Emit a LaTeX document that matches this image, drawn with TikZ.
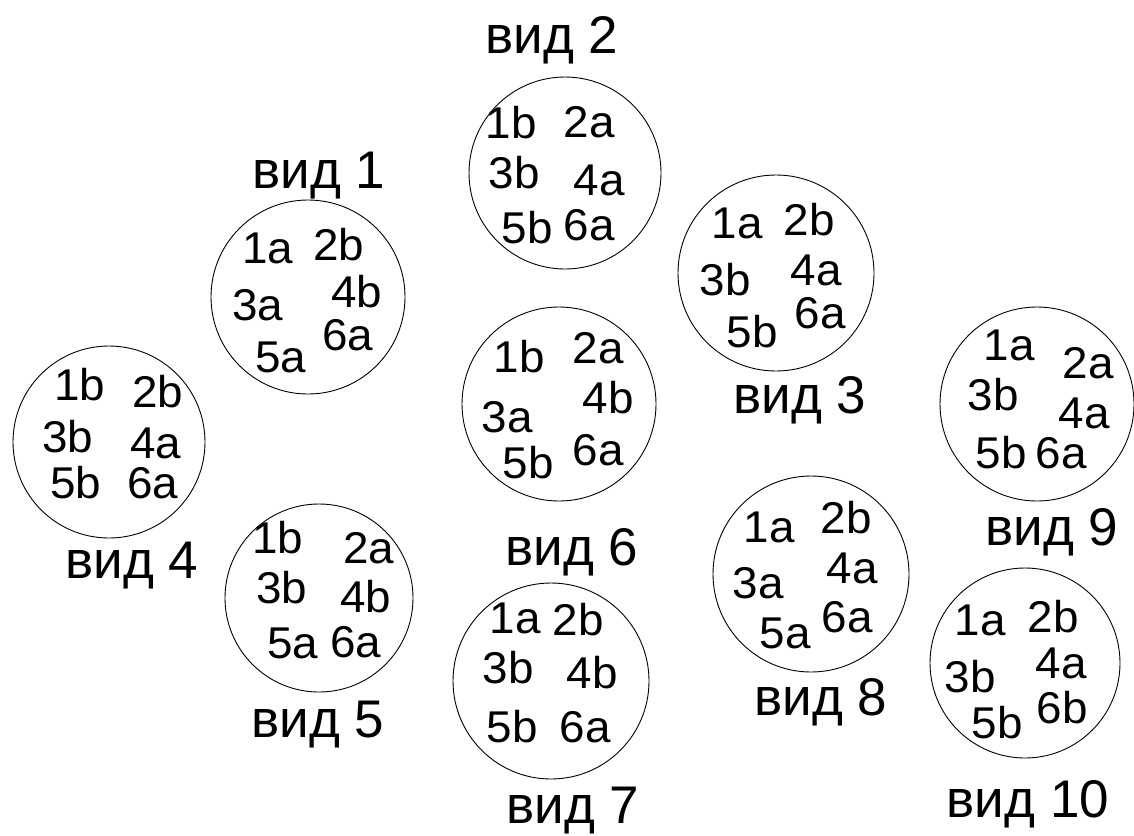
\documentclass[tikz,border=0pt]{standalone}
\usepackage{fontspec}
\setmainfont{Liberation Sans}
\newfontfamily\pinfont[FakeStretch=1.03]{Liberation Sans}
\begin{document}
\begin{tikzpicture}[x=1pt,y=-1pt,
  ring/.style={draw=black, line width=0.9pt, circle, inner sep=0pt},
  pin/.style={anchor=base, inner sep=0pt, font=\pinfont\fontsize{44.5}{44.5}\selectfont},
  vidlabel/.style={anchor=base, inner sep=0pt, font=\fontsize{53}{53}\selectfont}]
\useasboundingbox (0,0) rectangle (1134,835);
% circle 1
\node[ring, minimum size=194pt] (c1) at (308,297) {};
\node[vidlabel] (v1) at (319,188) {вид 1};
\node[pin] (c1p1) at (268,263) {1a};
\node[pin] (c1p2) at (339,260) {2b};
\node[pin] (c1p3) at (258,320) {3a};
\node[pin] (c1p4) at (357,307) {4b};
\node[pin] (c1p5) at (281,372) {5a};
\node[pin] (c1p6) at (348,350) {6a};
% circle 2
\node[ring, minimum size=192pt] (c2) at (565,173) {};
\node[vidlabel] (v2) at (552,53) {вид 2};
\node[pin] (c2p1) at (511,138) {1b};
\node[pin] (c2p2) at (589,137) {2a};
\node[pin] (c2p3) at (514,188) {3b};
\node[pin] (c2p4) at (599,195) {4a};
\node[pin] (c2p5) at (527,243) {5b};
\node[pin] (c2p6) at (589,240) {6a};
% circle 3
\node[ring, minimum size=196pt] (c3) at (776,273) {};
\node[vidlabel] (v3) at (800,413) {вид 3};
\node[pin] (c3p1) at (737,238) {1a};
\node[pin] (c3p2) at (809,235) {2b};
\node[pin] (c3p3) at (725,295) {3b};
\node[pin] (c3p4) at (816,285) {4a};
\node[pin] (c3p5) at (752,347) {5b};
\node[pin] (c3p6) at (820,328) {6a};
% circle 4
\node[ring, minimum size=192pt] (c4) at (109,442) {};
\node[vidlabel] (v4) at (132,578) {вид 4};
\node[pin] (c4p1) at (80,400) {1b};
\node[pin] (c4p2) at (158,407) {2b};
\node[pin] (c4p3) at (68,452) {3b};
\node[pin] (c4p4) at (156,458) {4a};
\node[pin] (c4p5) at (76,498) {5b};
\node[pin] (c4p6) at (153,498) {6a};
% circle 5
\node[ring, minimum size=188pt] (c5) at (319,598) {};
\node[vidlabel] (v5) at (318,737) {вид 5};
\node[pin] (c5p1) at (278,553) {1b};
\node[pin] (c5p2) at (369,563) {2a};
\node[pin] (c5p3) at (282,603) {3b};
\node[pin] (c5p4) at (366,612) {4b};
\node[pin] (c5p5) at (293,658) {5a};
\node[pin] (c5p6) at (356,657) {6a};
% circle 6
\node[ring, minimum size=194pt] (c6) at (559,404) {};
\node[vidlabel] (v6) at (572,565) {вид 6};
\node[pin] (c6p1) at (519,372) {1b};
\node[pin] (c6p2) at (598,363) {2a};
\node[pin] (c6p3) at (507,432) {3a};
\node[pin] (c6p4) at (608,413) {4b};
\node[pin] (c6p5) at (528,478) {5b};
\node[pin] (c6p6) at (598,465) {6a};
% circle 7
\node[ring, minimum size=196pt] (c7) at (551,681) {};
\node[vidlabel] (v7) at (573,823) {вид 7};
\node[pin] (c7p1) at (515,633) {1a};
\node[pin] (c7p2) at (578,635) {2b};
\node[pin] (c7p3) at (508,683) {3b};
\node[pin] (c7p4) at (592,688) {4b};
\node[pin] (c7p5) at (512,742) {5b};
\node[pin] (c7p6) at (585,742) {6a};
% circle 8
\node[ring, minimum size=196pt] (c8) at (811,574) {};
\node[vidlabel] (v8) at (821,715) {вид 8};
\node[pin] (c8p1) at (769,542) {1a};
\node[pin] (c8p2) at (846,533) {2b};
\node[pin] (c8p3) at (758,598) {3a};
\node[pin] (c8p4) at (852,583) {4a};
\node[pin] (c8p5) at (785,648) {5a};
\node[pin] (c8p6) at (847,632) {6a};
% circle 9
\node[ring, minimum size=194pt] (c9) at (1037,404) {};
\node[vidlabel] (v9) at (1052,545) {вид 9};
\node[pin] (c9p1) at (1009,360) {1a};
\node[pin] (c9p2) at (1088,378) {2a};
\node[pin] (c9p3) at (993,410) {3b};
\node[pin] (c9p4) at (1084,428) {4a};
\node[pin] (c9p5) at (1001,468) {5b};
\node[pin] (c9p6) at (1061,468) {6a};
% circle 10
\node[ring, minimum size=190pt] (c10) at (1025,663) {};
\node[vidlabel] (v10) at (1028,817) {вид 10};
\node[pin] (c10p1) at (980,635) {1a};
\node[pin] (c10p2) at (1053,632) {2b};
\node[pin] (c10p3) at (970,692) {3b};
\node[pin] (c10p4) at (1061,678) {4a};
\node[pin] (c10p5) at (997,738) {5b};
\node[pin] (c10p6) at (1062,723) {6b};
\end{tikzpicture}
\end{document}
